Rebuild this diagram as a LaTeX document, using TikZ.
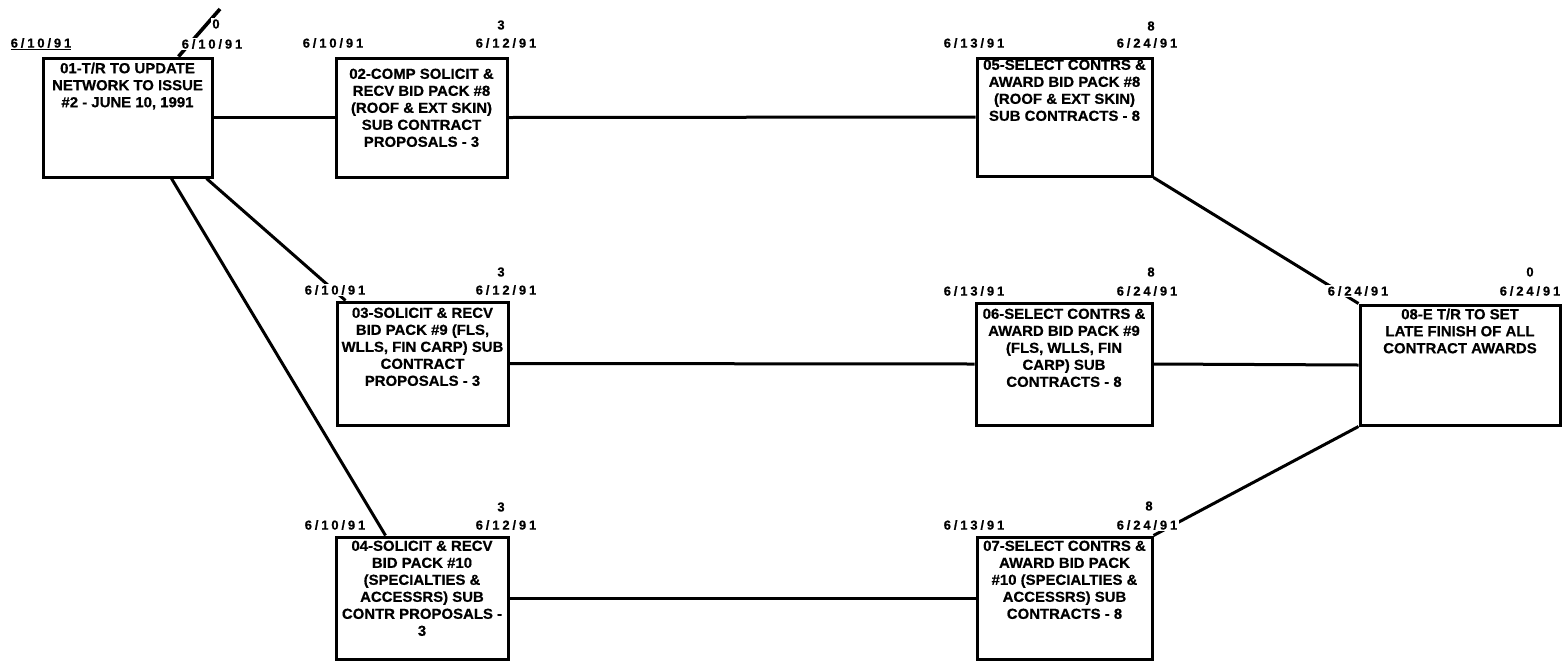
\documentclass[tikz,border=0pt]{standalone}
\usepackage{fontspec}
\setmainfont{Liberation Sans}
\newfontfamily\boxfont[FakeStretch=1.03,FakeBold=0.6]{Liberation Sans Bold}
\newfontfamily\datefont[LetterSpace=22,FakeBold=0.6]{Liberation Sans Bold}
\begin{document}
\begin{tikzpicture}[x=1pt,y=-1pt,
  box/.style={draw, line width=3pt, inner sep=0pt},
  btext/.style={font=\boxfont\fontsize{14.5}{17}\selectfont, align=center, inner sep=0pt, anchor=north},
  dlab/.style={font=\datefont\fontsize{13}{14}\selectfont, fill=white, inner sep=1.5pt},
  dur/.style={font=\datefont\fontsize{13}{14}\selectfont, fill=white, inner sep=1pt},
  conn/.style={line width=3pt}]
\useasboundingbox (0,0) rectangle (1568,662);

% boxes
\node[box, minimum width=169pt, minimum height=119pt] (n01) at (127.5,117.5) {};
\node[box, minimum width=171pt, minimum height=119pt] (n02) at (421.5,117.5) {};
\node[box, minimum width=175pt, minimum height=118pt] (n05) at (1064.5,117) {};
\node[box, minimum width=171pt, minimum height=123pt] (n03) at (422.5,363.5) {};
\node[box, minimum width=176pt, minimum height=122pt] (n06) at (1064,364) {};
\node[box, minimum width=200pt, minimum height=120pt] (n08) at (1460,365) {};
\node[box, minimum width=172pt, minimum height=122pt] (n04) at (422,598) {};
\node[box, minimum width=175pt, minimum height=122pt] (n07) at (1064.5,598) {};

% connectors
\coordinate (in01) at (220,9);
\draw[conn, line width=3.6pt] (in01) -- ([xshift=137pt]n01.north west);
\draw[conn] (n01.east) -- (n02.west);
\draw[conn] (n02.east) -- (n05.west);
\draw[conn] ([xshift=-7pt]n01.south east) -- ([xshift=10pt]n03.north west);
\draw[conn] ([xshift=-42pt]n01.south east) -- ([xshift=51pt]n04.north west);
\draw[conn] (n03.east) -- (n06.west);
\draw[conn] (n04.east) -- (n07.west);
\draw[conn] (n05.south east) -- (n08.north west);
\draw[conn] (n06.east) -- (n08.west);
\draw[conn] (n07.north east) -- (n08.south west);

% box texts
\node[btext] (t01) at ([yshift=-6pt]n01.north) {01-T/R TO UPDATE\\NETWORK TO ISSUE\\\#2 - JUNE 10, 1991};
\node[btext] (t02) at ([yshift=-12pt]n02.north) {02-COMP SOLICIT \&\\RECV BID PACK \#8\\(ROOF \& EXT SKIN)\\SUB CONTRACT\\PROPOSALS - 3};
\node[btext] (t05) at ([yshift=-3pt]n05.north) {05-SELECT CONTRS \&\\AWARD BID PACK \#8\\(ROOF \& EXT SKIN)\\SUB CONTRACTS - 8};
\node[btext] (t03) at ([yshift=-7pt]n03.north) {03-SOLICIT \& RECV\\BID PACK \#9 (FLS,\\WLLS, FIN CARP) SUB\\CONTRACT\\PROPOSALS - 3};
\node[btext] (t06) at ([yshift=-7pt]n06.north) {06-SELECT CONTRS \&\\AWARD BID PACK \#9\\(FLS, WLLS, FIN\\CARP) SUB\\CONTRACTS - 8};
\node[btext] (t08) at ([yshift=-5pt]n08.north) {08-E T/R TO SET\\LATE FINISH OF ALL\\CONTRACT AWARDS};
\node[btext] (t04) at ([yshift=-5pt]n04.north) {04-SOLICIT \& RECV\\BID PACK \#10\\(SPECIALTIES \&\\ACCESSRS) SUB\\CONTR PROPOSALS -\\3};
\node[btext] (t07) at ([yshift=-5pt]n07.north) {07-SELECT CONTRS \&\\AWARD BID PACK\\\#10 (SPECIALTIES \&\\ACCESSRS) SUB\\CONTRACTS - 8};

% dates and durations
\node[dlab] (d01l) at (41,44) {\underline{6/10/91}};
\node[dlab] (d01r) at (212,44) {6/10/91};
\node[dur] (u01) at (216,24) {0};

\node[dlab] (d02l) at (333,43) {6/10/91};
\node[dlab] (d02r) at (506,43) {6/12/91};
\node[dur] (u02) at (501,25) {3};

\node[dlab] (d05l) at (974,43) {6/13/91};
\node[dlab] (d05r) at (1147,43) {6/24/91};
\node[dur] (u05) at (1151,26) {8};

\node[dlab] (d03l) at (335,290) {6/10/91};
\node[dlab] (d03r) at (506,290) {6/12/91};
\node[dur] (u03) at (501,272) {3};

\node[dlab] (d06l) at (974,291) {6/13/91};
\node[dlab] (d06r) at (1147,291) {6/24/91};
\node[dur] (u06) at (1151,272) {8};

\node[dlab] (d08l) at (1358,291) {6/24/91};
\node[dlab] (d08r) at (1530,291) {6/24/91};
\node[dur] (u08) at (1530,272) {0};

\node[dlab] (d04l) at (335,525) {6/10/91};
\node[dlab] (d04r) at (506,525) {6/12/91};
\node[dur] (u04) at (501,507) {3};

\node[dlab] (d07l) at (974,525) {6/13/91};
\node[dlab] (d07r) at (1147,525) {6/24/91};
\node[dur] (u07) at (1149,506) {8};
\end{tikzpicture}
\end{document}
